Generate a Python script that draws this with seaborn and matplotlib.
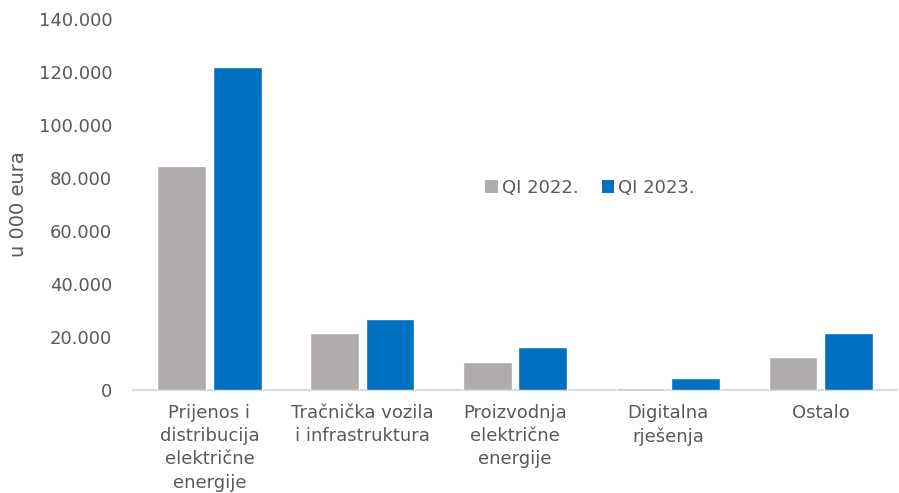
import matplotlib
matplotlib.use("Agg")
import matplotlib.pyplot as plt
import seaborn as sns
import pandas as pd
from matplotlib.ticker import FuncFormatter
from matplotlib.patches import Patch

categories = ["Prijenos i\ndistribucija\nelektrične\nenergije",
              "Tračnička vozila\ni infrastruktura",
              "Proizvodnja\nelektrične\nenergije",
              "Digitalna\nrješenja",
              "Ostalo"]
series_names = ["QI 2022.", "QI 2023."]
values_2022 = [84400, 21400, 10600, 800, 12300]
values_2023 = [121900, 26800, 16100, 4500, 21500]
y_ticks = [0, 20000, 40000, 60000, 80000, 100000, 120000, 140000]
colors = ["#AFACAB", "#0070C0"]
text_color = "#595959"

df = pd.DataFrame({
    "cat": categories * 2,
    "series": [series_names[0]] * 5 + [series_names[1]] * 5,
    "val": values_2022 + values_2023,
})

sns.set_theme(style="white")
plt.rcParams['font.family'] = ['DejaVu Sans']

fig = plt.figure(figsize=(8.99, 4.93), dpi=100)
ax = fig.add_axes([0.148, 0.209, 0.850, 0.752])
sns.barplot(data=df, x="cat", y="val", hue="series", palette=colors,
            width=0.725, gap=0.12, ax=ax, legend=False, saturation=1, zorder=3)

ax.set_ylim(0, 140000)
ax.set_yticks(y_ticks)
ax.yaxis.set_major_formatter(FuncFormatter(lambda v, p: f"{int(v):,}".replace(",", ".")))
ax.tick_params(axis="y", labelsize=13, colors=text_color, length=0, pad=15)
ax.tick_params(axis="x", length=0, pad=10)
for lbl in ax.get_xticklabels():
    lbl.set_fontsize(13)
    lbl.set_color(text_color)
    lbl.set_linespacing(1.38)
ax.set_xlabel("")
ax.set_ylabel("u 000 eura", fontsize=14, color=text_color)
ax.yaxis.set_label_coords(-0.137, 0.5)
for s in ["top", "right", "left"]:
    ax.spines[s].set_visible(False)
ax.spines["bottom"].set_color("#D9D9D9")
ax.spines["bottom"].set_linewidth(1.5)
ax.spines["bottom"].set_zorder(1)
ax.set_xlim(-0.5, 4.5)

handles = [Patch(facecolor=c, edgecolor="none") for c in colors]
fig.legend(handles, series_names, loc="center", bbox_to_anchor=(590 / 899, 1 - 188 / 493),
           ncol=2, frameon=False, fontsize=13, labelcolor=text_color,
           handlelength=0.7, handleheight=0.7, handletextpad=0.2, columnspacing=1.3)

fig.savefig("out.png", dpi=100)
